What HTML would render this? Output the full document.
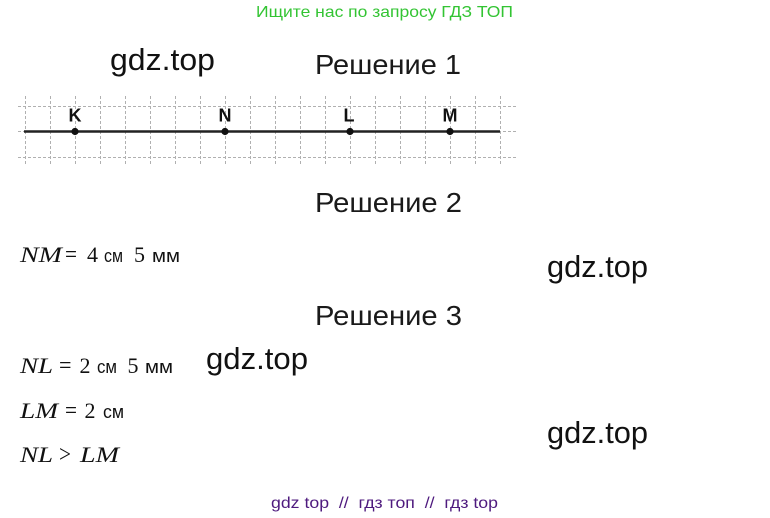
<!DOCTYPE html>
<html>
<head>
<meta charset="utf-8">
<style>
  html,body{margin:0;padding:0;background:#fff;}
  svg{display:block;}
  .sans{font-family:"Liberation Sans",Arial,sans-serif;}
  .serif{font-family:"Liberation Serif","Times New Roman",serif;}
</style>
</head>
<body>
<svg width="770" height="518" viewBox="0 0 770 518" xmlns="http://www.w3.org/2000/svg">
  <rect width="770" height="518" fill="#fff"/>

  <!-- header -->
  <text class="sans" x="256" y="17" font-size="16" fill="#33c433" textLength="257" lengthAdjust="spacingAndGlyphs">Ищите нас по запросу ГДЗ ТОП</text>

  <!-- watermarks -->
  <g class="sans" font-size="31" fill="#111">
    <text x="110" y="70" textLength="105" lengthAdjust="spacingAndGlyphs">gdz.top</text>
    <text x="547" y="277" textLength="101" lengthAdjust="spacingAndGlyphs">gdz.top</text>
    <text x="206" y="369" textLength="102" lengthAdjust="spacingAndGlyphs">gdz.top</text>
    <text x="547" y="443" textLength="101" lengthAdjust="spacingAndGlyphs">gdz.top</text>
  </g>

  <!-- headings -->
  <g class="sans" font-size="28" fill="#1a1a1a">
    <text x="315" y="74" textLength="146" lengthAdjust="spacingAndGlyphs">Решение 1</text>
    <text x="315" y="212" textLength="147" lengthAdjust="spacingAndGlyphs">Решение 2</text>
    <text x="315" y="325" textLength="147" lengthAdjust="spacingAndGlyphs">Решение 3</text>
  </g>

  <!-- grid -->
  <g stroke="#b0b0b0" stroke-width="1" stroke-dasharray="3,2">
    <line x1="18" y1="106.5" x2="518" y2="106.5"/>
    <line x1="18" y1="131.5" x2="518" y2="131.5"/>
    <line x1="18" y1="157.5" x2="518" y2="157.5"/>
    <line x1="25.5" y1="96" x2="25.5" y2="164"/>
    <line x1="50.5" y1="96" x2="50.5" y2="164"/>
    <line x1="75.5" y1="96" x2="75.5" y2="164"/>
    <line x1="100.5" y1="96" x2="100.5" y2="164"/>
    <line x1="125.5" y1="96" x2="125.5" y2="164"/>
    <line x1="150.5" y1="96" x2="150.5" y2="164"/>
    <line x1="175.5" y1="96" x2="175.5" y2="164"/>
    <line x1="200.5" y1="96" x2="200.5" y2="164"/>
    <line x1="225.5" y1="96" x2="225.5" y2="164"/>
    <line x1="250.5" y1="96" x2="250.5" y2="164"/>
    <line x1="275.5" y1="96" x2="275.5" y2="164"/>
    <line x1="300.5" y1="96" x2="300.5" y2="164"/>
    <line x1="325.5" y1="96" x2="325.5" y2="164"/>
    <line x1="350.5" y1="96" x2="350.5" y2="164"/>
    <line x1="375.5" y1="96" x2="375.5" y2="164"/>
    <line x1="400.5" y1="96" x2="400.5" y2="164"/>
    <line x1="425.5" y1="96" x2="425.5" y2="164"/>
    <line x1="450.5" y1="96" x2="450.5" y2="164"/>
    <line x1="475.5" y1="96" x2="475.5" y2="164"/>
    <line x1="500.5" y1="96" x2="500.5" y2="164"/>
  </g>

  <!-- main line -->
  <line x1="24" y1="131.5" x2="500" y2="131.5" stroke="#222" stroke-width="2.6"/>
  <g fill="#111">
    <circle cx="75" cy="131.5" r="3.6"/>
    <circle cx="225" cy="131.5" r="3.6"/>
    <circle cx="350" cy="131.5" r="3.6"/>
    <circle cx="450" cy="131.5" r="3.6"/>
  </g>
  <g class="sans" font-size="18" font-weight="bold" fill="#111" text-anchor="middle">
    <text x="75" y="121.5">K</text>
    <text x="225" y="121.5">N</text>
    <text x="349" y="121.5">L</text>
    <text x="450" y="121.5">M</text>
  </g>

  <!-- math line 1 -->
  <g fill="#111">
    <text class="serif" font-style="italic" font-size="22" x="20" y="262" textLength="42" lengthAdjust="spacingAndGlyphs">NM</text>
    <text class="serif" font-size="24" x="65" y="262" textLength="12" lengthAdjust="spacingAndGlyphs">=</text>
    <text class="serif" font-size="22" x="87" y="262">4</text>
    <text class="sans" font-size="18.5" x="104" y="262" textLength="19" lengthAdjust="spacingAndGlyphs">см</text>
    <text class="serif" font-size="22" x="134" y="262">5</text>
    <text class="sans" font-size="18.5" x="152" y="262" textLength="28" lengthAdjust="spacingAndGlyphs">мм</text>
  </g>

  <!-- math line 2 -->
  <g fill="#111">
    <text class="serif" font-style="italic" font-size="22" x="20" y="373" textLength="33" lengthAdjust="spacingAndGlyphs">NL</text>
    <text class="serif" font-size="24" x="59" y="373" textLength="12.5" lengthAdjust="spacingAndGlyphs">=</text>
    <text class="serif" font-size="22" x="79.5" y="373">2</text>
    <text class="sans" font-size="18.5" x="97" y="373" textLength="20" lengthAdjust="spacingAndGlyphs">см</text>
    <text class="serif" font-size="22" x="127.5" y="373">5</text>
    <text class="sans" font-size="18.5" x="145" y="373" textLength="28" lengthAdjust="spacingAndGlyphs">мм</text>
  </g>

  <!-- math line 3 -->
  <g fill="#111">
    <text class="serif" font-style="italic" font-size="22" x="20" y="418" textLength="38" lengthAdjust="spacingAndGlyphs">LM</text>
    <text class="serif" font-size="24" x="65" y="418" textLength="12" lengthAdjust="spacingAndGlyphs">=</text>
    <text class="serif" font-size="22" x="84.5" y="418">2</text>
    <text class="sans" font-size="18.5" x="103" y="418" textLength="21" lengthAdjust="spacingAndGlyphs">см</text>
  </g>

  <!-- math line 4 -->
  <g fill="#111">
    <text class="serif" font-style="italic" font-size="22" x="20" y="462" textLength="33" lengthAdjust="spacingAndGlyphs">NL</text>
    <text class="serif" font-size="24" x="59" y="462" textLength="12" lengthAdjust="spacingAndGlyphs">&gt;</text>
    <text class="serif" font-style="italic" font-size="22" x="80" y="462" textLength="39" lengthAdjust="spacingAndGlyphs">LM</text>
  </g>

  <!-- footer -->
  <text class="sans" font-size="15.5" fill="#4e1a7e" x="271" y="508" textLength="227" lengthAdjust="spacingAndGlyphs" xml:space="preserve">gdz top  //  гдз топ  //  гдз top</text>
</svg>
</body>
</html>
